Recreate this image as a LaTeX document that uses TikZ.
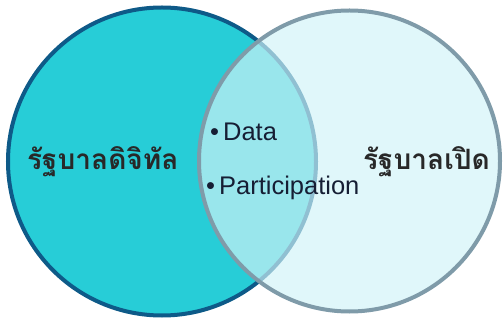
\documentclass[tikz,border=0pt]{standalone}
\usepackage{fontspec}
\setmainfont{Liberation Sans}
\newfontfamily\thaifont[Script=Thai]{Loma}
\definecolor{digifill}{RGB}{39,205,215}
\definecolor{digiline}{RGB}{14,90,136}
\definecolor{openfill}{RGB}{209,243,247}
\definecolor{openline}{RGB}{127,155,169}
\definecolor{thaitext}{RGB}{40,40,40}
\definecolor{itemtext}{RGB}{22,30,52}
\begin{document}
\begin{tikzpicture}[x=1pt,y=-1pt]
			\tikzstyle{thai}=[anchor=base west,inner sep=0pt,text=thaitext,font=\thaifont\bfseries\fontsize{28}{30}\selectfont]
			\tikzstyle{item}=[anchor=base west,inner sep=0pt,text=itemtext,font=\fontsize{25.5}{27}\selectfont]
			\useasboundingbox (0,0) rectangle (503,320);
			% two sets
			\coordinate (digital) at (162,161.5);
			\coordinate (open) at (349.5,161);
			\fill[digifill] (digital) circle (154);
			\draw[digiline,line width=4pt] (digital) circle (154);
			\fill[openfill,fill opacity=0.67] (open) circle (150.5);
			\draw[openline,line width=4pt] (open) circle (150.5);
			% labels
			\node[thai] (digitalname) at (27,170) {รัฐบาลดิจิทัล};
			\node[thai] (openname) at (363,170) {รัฐบาลเปิด};
			\node[item] (data) at (210,141) {•\kern4pt Data};
			\node[item] (part) at (206,195) {•\kern4pt Participation};
\end{tikzpicture}
\end{document}
